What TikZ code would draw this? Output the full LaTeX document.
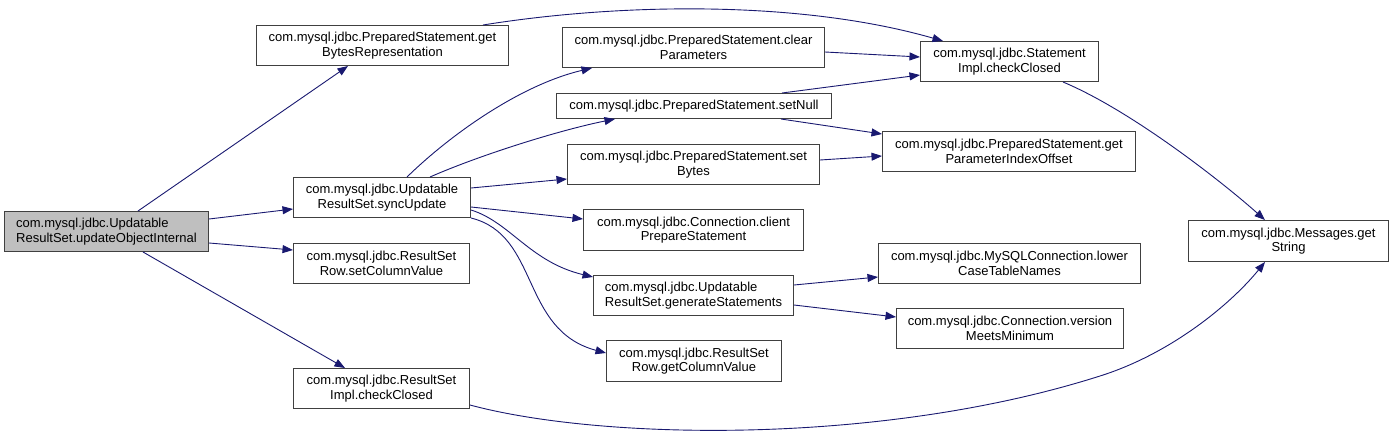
\documentclass[tikz,border=0pt]{standalone}
\usepackage{fontspec}
\setmainfont{Liberation Sans}
\usetikzlibrary{arrows.meta,calc}
\definecolor{edgecol}{RGB}{25,25,112}
\definecolor{boxline}{RGB}{64,64,64}
\definecolor{curfill}{RGB}{191,191,191}
\tikzset{
  fnbox/.style={draw=boxline, line width=1pt, fill=white, inner sep=0pt, anchor=north west,
    align=center, font=\fontsize{13}{14.5}\selectfont},
  curbox/.style={fnbox, fill=curfill},
  call/.style={draw=edgecol, line width=0.9pt, -{Triangle[length=10.5pt,width=8pt]}},
}
\begin{document}
\begin{tikzpicture}[x=1pt,y=-1pt]
\useasboundingbox (0,0) rectangle (1393,434);
% nodes
\node[curbox, minimum width=204pt, minimum height=40pt, align=left] (A) at (4,211) {com.mysql.jdbc.Updatable\\ResultSet.updateObjectInternal};
\node[fnbox, minimum width=252pt, minimum height=40pt] (B) at (256,25) {com.mysql.jdbc.PreparedStatement.get\\BytesRepresentation};
\node[fnbox, minimum width=177pt, minimum height=40pt] (C) at (293,177) {com.mysql.jdbc.Updatable\\ResultSet.syncUpdate};
\node[fnbox, minimum width=176pt, minimum height=40pt] (D) at (293,243) {com.mysql.jdbc.ResultSet\\Row.setColumnValue};
\node[fnbox, minimum width=176pt, minimum height=40pt] (E) at (293,368) {com.mysql.jdbc.ResultSet\\Impl.checkClosed};
\node[fnbox, minimum width=262pt, minimum height=40pt] (F) at (562,27) {com.mysql.jdbc.PreparedStatement.clear\\Parameters};
\node[fnbox, minimum width=275pt, minimum height=25pt] (G) at (556,93) {com.mysql.jdbc.PreparedStatement.setNull};
\node[fnbox, minimum width=252pt, minimum height=40pt] (H) at (567,144) {com.mysql.jdbc.PreparedStatement.set\\Bytes};
\node[fnbox, minimum width=220pt, minimum height=41pt] (I) at (583,209) {com.mysql.jdbc.Connection.client\\PrepareStatement};
\node[fnbox, minimum width=200pt, minimum height=40pt, align=left] (J) at (593,275) {com.mysql.jdbc.Updatable\\ResultSet.generateStatements};
\node[fnbox, minimum width=175pt, minimum height=41pt] (K) at (606,340) {com.mysql.jdbc.ResultSet\\Row.getColumnValue};
\node[fnbox, minimum width=178pt, minimum height=40pt] (L) at (920,41) {com.mysql.jdbc.Statement\\Impl.checkClosed};
\node[fnbox, minimum width=253pt, minimum height=40pt] (M) at (882,131) {com.mysql.jdbc.PreparedStatement.get\\ParameterIndexOffset};
\node[fnbox, minimum width=262pt, minimum height=40pt] (N) at (878,243) {com.mysql.jdbc.MySQLConnection.lower\\CaseTableNames};
\node[fnbox, minimum width=227pt, minimum height=40pt] (O) at (896,308) {com.mysql.jdbc.Connection.version\\MeetsMinimum};
\node[fnbox, minimum width=200pt, minimum height=41pt] (P) at (1188,220) {com.mysql.jdbc.Messages.get\\String};
% edges
\draw[call] ($(A.north west)+(134,0)$) -- ($(B.south west)+(92,0)$);
\draw[call] ($(A.north east)+(0,8)$) -- ($(C.north west)+(0,32)$);
\draw[call] ($(A.north east)+(0,32)$) -- ($(D.north west)+(0,7)$);
\draw[call] ($(A.south west)+(139,0)$) -- ($(E.north west)+(52,0)$);
\draw[call] ($(B.north west)+(227,0)$) .. controls (620,3) and (800,0) .. ($(L.north west)+(23,0)$);
\draw[call] ($(C.north west)+(114,0)$) .. controls (450,135) and (520,85) .. ($(F.south west)+(30,0)$);
\draw[call] ($(C.north west)+(137,0)$) .. controls (480,155) and (560,130) .. ($(G.south west)+(59,0)$);
\draw[call] ($(C.north east)+(0,11)$) -- ($(H.north west)+(0,35)$);
\draw[call] ($(C.north east)+(0,30)$) -- ($(I.north west)+(0,10)$);
\draw[call] ($(C.north east)+(0,33)$) .. controls (510,222) and (530,262) .. ($(J.north west)+(0,2)$);
\draw[call] (C.south east) .. controls (540,235) and (520,330) .. ($(K.north west)+(0,13)$);
\draw[call] ($(F.north east)+(0,25)$) -- ($(L.north west)+(0,16)$);
\draw[call] ($(G.north west)+(226,0)$) -- ($(L.north west)+(0,34)$);
\draw[call] ($(G.south west)+(225,0)$) -- ($(M.north west)+(0,3)$);
\draw[call] ($(H.north east)+(0,16)$) -- ($(M.north west)+(0,25)$);
\draw[call] ($(J.north east)+(0,10)$) -- ($(N.north west)+(0,34)$);
\draw[call] ($(J.north east)+(0,30)$) -- ($(O.north west)+(0,9)$);
\draw[call] ($(L.south west)+(143,0)$) .. controls (1130,110) and (1220,180) .. ($(P.north west)+(77,0)$);
\draw[call] ($(E.north east)+(0,37)$) .. controls (600,440) and (880,446) .. (1100,376) .. controls (1170,354) and (1230,305) .. ($(P.south west)+(77,0)$);
\end{tikzpicture}
\end{document}
